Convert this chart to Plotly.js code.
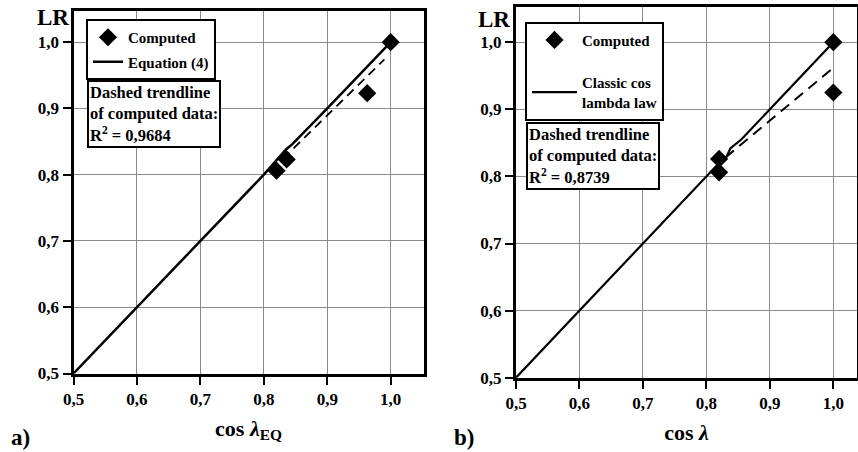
<!DOCTYPE html>
<html>
<head>
<meta charset="utf-8">
<script src="https://cdn.plot.ly/plotly-3.0.1.min.js"></script>
<style>
  html, body { margin: 0; padding: 0; background: #fff; }
  #chart { width: 858px; height: 452px; }
</style>
</head>
<body>
<div id="chart"></div>
<script>
// ---- Data ----
// Panel a)
const aComputedX = [0.820, 0.836, 0.963, 1.000];
const aComputedY = [0.806, 0.823, 0.923, 1.000];
const aEquationX = [0.50, 0.70, 0.80, 0.835, 0.845, 0.90, 0.96, 1.00];
const aEquationY = [0.50, 0.70, 0.80, 0.838, 0.846, 0.90, 0.96, 1.00];
const aTrendX = [0.830, 0.990];
const aTrendY = [0.824, 0.974];
const aR2 = "0,9684";

// Panel b)
const bComputedX = [0.820, 0.820, 1.000, 1.000];
const bComputedY = [0.806, 0.826, 0.925, 1.000];
const bClassicX = [0.50, 0.70, 0.82, 0.832, 0.838, 0.855, 0.90, 1.00];
const bClassicY = [0.50, 0.70, 0.82, 0.830, 0.842, 0.855, 0.90, 1.00];
const bTrendX = [0.830, 1.000];
const bTrendY = [0.828, 0.962];
const bR2 = "0,8739";

const tickVals = [0.5, 0.6, 0.7, 0.8, 0.9, 1.0];

// ---- Styling ----
const FONT = "Liberation Serif";
const W = 858, H = 452;
const px = v => v / W;
const py = v => 1 - v / H;

function axisBase(extra) {
  return Object.assign({
    showline: true, linecolor: "#000", linewidth: 3, mirror: true,
    showgrid: true, gridcolor: "#8a8a8a", gridwidth: 1,
    zeroline: false,
    ticks: "outside", ticklen: 8, tickwidth: 2, tickcolor: "#000",
    tickvals: tickVals, tickformat: ".1f",
    tickfont: { family: FONT, size: 17, color: "#000", weight: "bold" },
    fixedrange: true
  }, extra);
}

const traces = [
  // Panel a
  { x: aEquationX, y: aEquationY, xaxis: "x", yaxis: "y", type: "scatter", mode: "lines",
    name: "Equation (4)", legend: "legend", legendgroup: "a2", legendrank: 2,
    line: { color: "#000", width: 2.5 } },
  { x: aTrendX, y: aTrendY, xaxis: "x", yaxis: "y", type: "scatter", mode: "lines",
    showlegend: false, line: { color: "#000", width: 1.8, dash: "9px,6px" } },
  { x: aComputedX, y: aComputedY, xaxis: "x", yaxis: "y", type: "scatter", mode: "markers",
    name: "Computed", legend: "legend", legendgroup: "a1", legendrank: 1,
    marker: { symbol: "diamond", size: 14, color: "#000" } },
  // Panel b
  { x: bClassicX, y: bClassicY, xaxis: "x2", yaxis: "y2", type: "scatter", mode: "lines",
    name: "Classic cos<br>lambda law", legend: "legend2", legendgroup: "b2", legendrank: 2,
    line: { color: "#000", width: 2.2 } },
  { x: bTrendX, y: bTrendY, xaxis: "x2", yaxis: "y2", type: "scatter", mode: "lines",
    showlegend: false, line: { color: "#000", width: 2, dash: "11px,7px" } },
  { x: bComputedX, y: bComputedY, xaxis: "x2", yaxis: "y2", type: "scatter", mode: "markers",
    name: "Computed", legend: "legend2", legendgroup: "b1", legendrank: 1,
    marker: { symbol: "diamond", size: 14, color: "#000" } }
];

const titleFont = { family: FONT, size: 22, color: "#000", weight: "bold" };
const legendFont = { family: FONT, size: 15, color: "#000", weight: "bold" };
const annFont = { family: FONT, size: 16.5, color: "#000", weight: "bold" };
const bigFont = { family: FONT, size: 23, color: "#000", weight: "bold" };

const layout = {
  width: W, height: H,
  margin: { l: 0, r: 0, t: 0, b: 0 },
  paper_bgcolor: "#fff", plot_bgcolor: "#fff",
  font: { family: FONT, color: "#000" },
  separators: ",.",
  showlegend: true,
  xaxis: axisBase({ domain: [px(73.5), px(423.5)], range: [0.5, 1.0517], anchor: "y",
    title: { text: "cos <i>λ</i><sub>EQ</sub>", font: titleFont, standoff: 13 } }),
  yaxis: axisBase({ domain: [1 - 373.5 / H, 1 - 11 / H], range: [0.5, 1.047], anchor: "x" }),
  xaxis2: axisBase({ domain: [px(516), px(857)], range: [0.5, 1.0373], anchor: "y2",
    title: { text: "cos <i>λ</i>", font: titleFont, standoff: 13 } }),
  yaxis2: axisBase({ domain: [1 - 377.7 / H, 1 - 7.3 / H], range: [0.5, 1.052], anchor: "x2" }),
  legend: {
    x: px(86), y: py(19), xanchor: "left", yanchor: "top",
    bordercolor: "#000", borderwidth: 2, bgcolor: "#fff",
    font: legendFont, tracegroupgap: 2, traceorder: "grouped"
  },
  legend2: {
    x: px(525), y: py(21.7), xanchor: "left", yanchor: "top",
    bordercolor: "#000", borderwidth: 2, bgcolor: "#fff",
    font: legendFont, tracegroupgap: 20, traceorder: "grouped", itemwidth: 45
  },
  annotations: [
    { xref: "paper", yref: "paper", x: px(87), y: py(80), xanchor: "left", yanchor: "top",
      text: "Dashed trendline<br>of computed data:<br>R<sup>2</sup> = " + aR2,
      align: "left", showarrow: false, font: annFont,
      bordercolor: "#000", borderwidth: 2, borderpad: 1, bgcolor: "#fff" },
    { xref: "paper", yref: "paper", x: px(526), y: py(121.7), xanchor: "left", yanchor: "top",
      text: "Dashed trendline<br>of computed data:<br>R<sup>2</sup> = " + bR2,
      align: "left", showarrow: false, font: annFont,
      bordercolor: "#000", borderwidth: 2, borderpad: 1, bgcolor: "#fff" },
    { xref: "paper", yref: "paper", x: px(53), y: py(17), xanchor: "center", yanchor: "middle",
      text: "LR", showarrow: false, font: bigFont },
    { xref: "paper", yref: "paper", x: px(494), y: py(20), xanchor: "center", yanchor: "middle",
      text: "LR", showarrow: false, font: bigFont },
    { xref: "paper", yref: "paper", x: px(9), y: py(437), xanchor: "left", yanchor: "middle",
      text: "a)", showarrow: false, font: bigFont },
    { xref: "paper", yref: "paper", x: px(452), y: py(437), xanchor: "left", yanchor: "middle",
      text: "b)", showarrow: false, font: bigFont }
  ]
};

Plotly.newPlot("chart", traces, layout, { staticPlot: true, displayModeBar: false });
</script>
</body>
</html>
